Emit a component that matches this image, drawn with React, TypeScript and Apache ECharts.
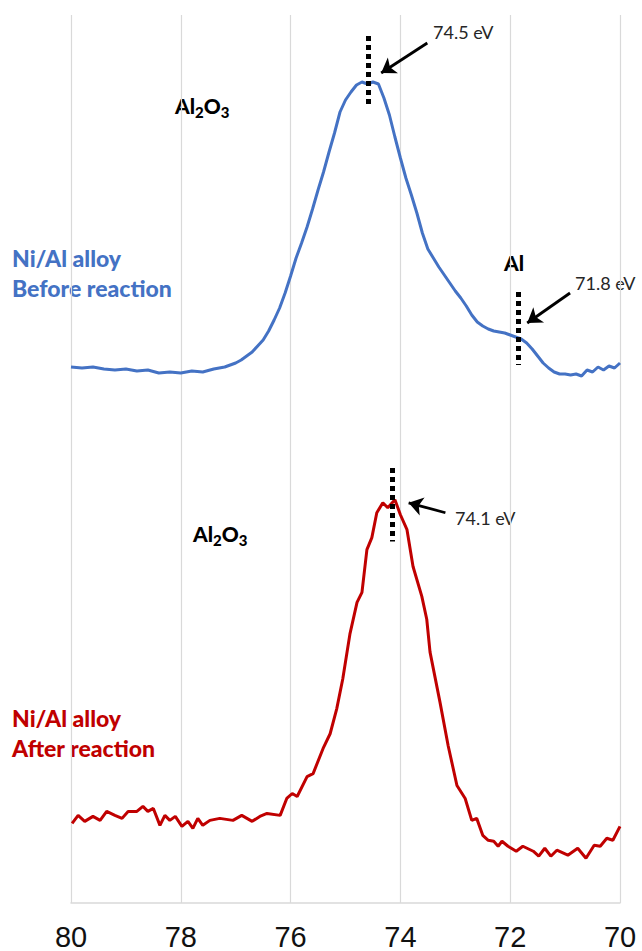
import React, { useEffect, useRef } from "react";
import * as echarts from "echarts";

// Binding energy axis (eV), reversed: 80 on the left, 70 on the right
const xMin = 70;
const xMax = 80;
const xStep = 2;

// Ni/Al alloy – before reaction (arbitrary intensity units)
const blueEnergy = [
  80.0, 79.8, 79.6, 79.4, 79.2, 79.0, 78.8, 78.6, 78.4, 78.2, 78.0, 77.8, 77.6, 77.4, 77.2,
  77.0, 76.9, 76.8, 76.7, 76.6, 76.5, 76.4, 76.3, 76.2, 76.1, 76.0, 75.9, 75.8, 75.7, 75.6,
  75.5, 75.4, 75.3, 75.2, 75.1, 75.0, 74.9, 74.8, 74.7, 74.6, 74.5, 74.4, 74.3, 74.2, 74.1,
  74.0, 73.9, 73.8, 73.7, 73.6, 73.5, 73.4, 73.3, 73.2, 73.1, 73.0, 72.9, 72.8, 72.7, 72.6,
  72.5, 72.4, 72.3, 72.2, 72.1, 72.0, 71.9, 71.8, 71.7, 71.6, 71.5, 71.4, 71.3, 71.2, 71.1,
  71.0, 70.9, 70.8, 70.7, 70.6, 70.5, 70.4, 70.3, 70.2, 70.1, 70.0,
];
const blueCounts = [
  88, 87, 88, 86, 85, 86, 84, 85, 82, 83, 82, 84, 83, 86, 88,
  92, 95, 99, 103, 109, 115, 124, 135, 147, 162, 179, 197, 212, 228, 246,
  265, 283, 303, 322, 343, 355, 363, 370, 373, 371, 373, 371, 357, 340, 318,
  297, 277, 260, 242, 222, 206, 197, 188, 180, 172, 164, 157, 149, 140, 133,
  129, 126, 124, 123, 122, 120, 118, 116, 112, 106, 99, 92, 87, 83, 81,
  81, 80, 81, 79, 85, 83, 88, 85, 89, 87, 92,
];

// Ni/Al alloy – after reaction (arbitrary intensity units)
const redEnergy = [
  79.98, 79.87, 79.75, 79.6, 79.47, 79.35, 79.2, 79.07, 78.96, 78.8, 78.69, 78.6, 78.5, 78.38,
  78.29, 78.2, 78.1, 77.98, 77.87, 77.78, 77.69, 77.6, 77.47, 77.29, 77.05, 76.89, 76.7, 76.56,
  76.43, 76.19, 76.07, 75.97, 75.88, 75.7, 75.59, 75.41, 75.28, 75.16, 75.05, 74.92, 74.79,
  74.7, 74.61, 74.52, 74.43, 74.32, 74.23, 74.1, 74.0, 73.88, 73.77, 73.61, 73.52, 73.46,
  73.28, 73.13, 72.97, 72.82, 72.7, 72.61, 72.5, 72.4, 72.3, 72.22, 72.15, 72.04, 71.89,
  71.77, 71.58, 71.48, 71.37, 71.26, 71.15, 70.95, 70.77, 70.62, 70.47, 70.36, 70.24, 70.13, 70.0,
];
const redCounts = [
  80, 88, 82, 87, 83, 92, 88, 85, 92, 92, 97, 92, 95, 78,
  88, 83, 87, 77, 82, 75, 85, 78, 83, 85, 83, 88, 82, 87,
  90, 88, 105, 110, 107, 127, 130, 155, 170, 195, 225, 270, 302,
  312, 355, 367, 392, 402, 397, 405, 390, 375, 338, 308, 285, 252,
  202, 158, 118, 105, 83, 85, 68, 63, 62, 57, 62, 57, 52,
  57, 52, 47, 55, 47, 53, 48, 55, 45, 58, 57, 65, 63, 77,
];

// Peak markers: [energy, from, to] (dashed vertical markers)
const bluePeakMarks = [
  [74.58, 419, 347],
  [71.85, 163, 90],
];
const redPeakMarks = [[74.15, 437, 363]];
// Arrows: [fromE, fromV, toE, toV]
const blueArrows = [
  [73.51, 412, 74.35, 382],
  [70.91, 162, 71.69, 132],
];
const redArrows = [[73.18, 392, 73.85, 402]];

const BLUE = "#4472C4";
const RED = "#C00000";
const GRID = "#d9d9d9";
const FONT = "Lato, 'Open Sans', sans-serif";
const HEAVY = 900;

function zip(xs: number[], ys: number[]) {
  return xs.map((x, i) => [x, ys[i]]);
}

function dashMarks(marks: number[][]) {
  return marks.map(([e, a, b]) => [
    { coord: [e, a], symbol: "none" },
    { coord: [e, b], symbol: "none" },
  ]);
}
function arrowMarks(arrows: number[][]) {
  return arrows.map(([e1, v1, e2, v2]) => [
    {
      coord: [e1, v1],
      symbol: "none",
      lineStyle: { type: "solid", width: 2.8, color: "#000" },
    },
    { coord: [e2, v2], symbol: "arrow", symbolSize: 14 },
  ]);
}

function formula(x: number, y: number) {
  return {
    type: "text",
    x,
    y,
    style: {
      text: "{a|Al}{s|2}{a|O}{s|3}",
      fill: "#000",
      verticalAlign: "middle",
      rich: {
        a: {
          fontSize: 21,
          fontWeight: HEAVY,
          fontFamily: FONT,
          lineHeight: 24,
          verticalAlign: "top",
          fill: "#000",
        },
        s: {
          fontSize: 15,
          fontWeight: HEAVY,
          fontFamily: FONT,
          lineHeight: 15,
          padding: [9, 0, 0, 0],
          verticalAlign: "top",
          fill: "#000",
        },
      },
    },
  };
}

function txt(text: string, x: number, y: number, size: number, color: string, weight: any) {
  return {
    type: "text",
    x,
    y,
    style: {
      text,
      fill: color,
      fontSize: size,
      fontWeight: weight,
      fontFamily: FONT,
      verticalAlign: "middle",
      align: "left",
    },
  };
}

export default function App() {
  const ref = useRef<HTMLDivElement>(null);
  useEffect(() => {
    if (!ref.current) return;
    const chart = echarts.init(ref.current, undefined, { renderer: "svg" });
    const xAxisBase = {
      type: "value",
      min: xMin,
      max: xMax,
      interval: xStep,
      inverse: true,
      axisTick: { show: false },
      splitLine: { show: true, lineStyle: { color: GRID, width: 1.2 } },
    };
    chart.setOption({
      animation: false,
      backgroundColor: "#fff",
      grid: [
        { left: 71, right: 22, top: 15, height: 440 },
        { left: 71, right: 22, top: 455, height: 450 },
      ],
      xAxis: [
        {
          ...xAxisBase,
          gridIndex: 0,
          axisLine: { show: false },
          axisLabel: { show: false },
        },
        {
          ...xAxisBase,
          gridIndex: 1,
          axisLine: { show: true, lineStyle: { color: GRID, width: 1.5 } },
          axisLabel: {
            show: true,
            fontSize: 29,
            color: "#111",
            fontFamily: "'Liberation Sans', Arial, sans-serif",
            margin: 19,
          },
        },
      ],
      yAxis: [
        { type: "value", gridIndex: 0, min: 0, max: 440, show: false, splitLine: { show: false } },
        { type: "value", gridIndex: 1, min: 0, max: 450, show: false, splitLine: { show: false } },
      ],
      series: [
        {
          type: "line",
          name: "Before reaction",
          xAxisIndex: 0,
          yAxisIndex: 0,
          data: zip(blueEnergy, blueCounts),
          showSymbol: false,
          symbol: "none",
          lineStyle: { color: BLUE, width: 3 },
          z: 2,
          markLine: {
            silent: true,
            animation: false,
            label: { show: false },
            lineStyle: { type: [5, 4], width: 5, color: "#000", cap: "butt" },
            data: [...dashMarks(bluePeakMarks), ...arrowMarks(blueArrows)],
          },
        },
        {
          type: "line",
          name: "After reaction",
          xAxisIndex: 1,
          yAxisIndex: 1,
          data: zip(redEnergy, redCounts),
          showSymbol: false,
          symbol: "none",
          lineStyle: { color: RED, width: 3 },
          z: 2,
          markLine: {
            silent: true,
            animation: false,
            label: { show: false },
            lineStyle: { type: [5, 4], width: 5, color: "#000", cap: "butt" },
            data: [...dashMarks(redPeakMarks), ...arrowMarks(redArrows)],
          },
        },
      ],
      graphic: [
        formula(175, 107),
        formula(193, 535),
        txt("74.5 eV", 433, 32, 18, "#262626", "normal"),
        txt("71.8 eV", 575, 283, 18, "#262626", "normal"),
        txt("74.1 eV", 455, 518, 18, "#262626", "normal"),
        txt("Al", 504, 262, 21, "#000", HEAVY),
        txt("Ni/Al alloy", 12, 258, 23, BLUE, HEAVY),
        txt("Before reaction", 12, 288, 23, BLUE, HEAVY),
        txt("Ni/Al alloy", 12, 718, 23, RED, HEAVY),
        txt("After reaction", 12, 748, 23, RED, HEAVY),
      ],
    });
    return () => chart.dispose();
  }, []);
  return (
    <div
      ref={ref}
      style={{ position: "absolute", left: 0, top: 0, width: 642, height: 951, background: "#fff" }}
    />
  );
}
